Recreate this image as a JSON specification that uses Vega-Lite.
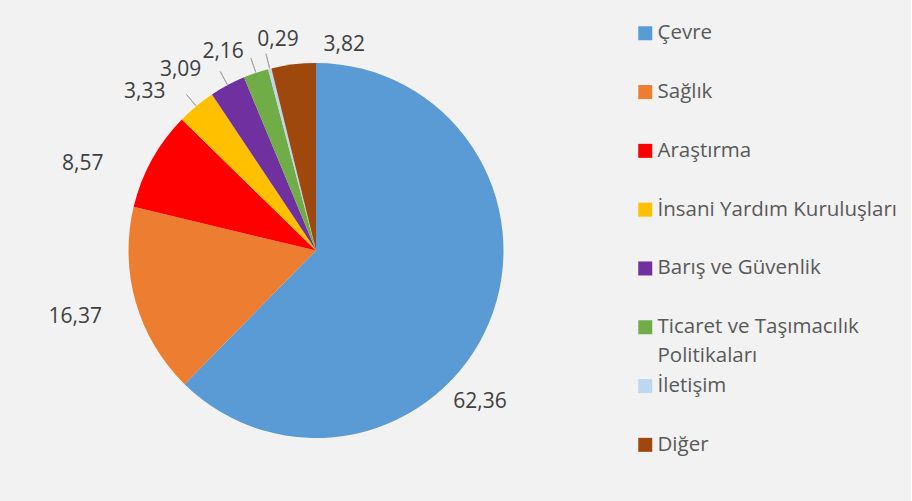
{
  "$schema": "https://vega.github.io/schema/vega-lite/v6.json",
  "width": 632,
  "height": 501,
  "padding": {"left": 0, "top": 0, "right": 14, "bottom": 0},
  "background": "#f2f2f2",
  "config": {
    "view": {"stroke": null},
    "font": "Open Sans",
    "style": {"guide-label": {"lineHeight": 29}},
    "locale": {"number": {"decimal": ",", "thousands": ".", "grouping": [3], "currency": ["", " TL"]}}
  },
  "data": {"values": [
    {"sira": 1, "alan": "Çevre", "pay": 62.36},
    {"sira": 2, "alan": "Sağlık", "pay": 16.37},
    {"sira": 3, "alan": "Araştırma", "pay": 8.57},
    {"sira": 4, "alan": "İnsani Yardım Kuruluşları", "pay": 3.33},
    {"sira": 5, "alan": "Barış ve Güvenlik", "pay": 3.09},
    {"sira": 6, "alan": "Ticaret ve Taşımacılık Politikaları", "pay": 2.16},
    {"sira": 7, "alan": "İletişim", "pay": 0.29},
    {"sira": 8, "alan": "Diğer", "pay": 3.82}
  ]},
  "encoding": {
    "theta": {"field": "pay", "type": "quantitative", "stack": true},
    "order": {"field": "sira", "type": "quantitative"}
  },
  "layer": [
    {
      "mark": {"type": "arc", "outerRadius": 187.5},
      "encoding": {
        "color": {
          "field": "alan", "type": "nominal",
          "scale": {
            "domain": ["Çevre", "Sağlık", "Araştırma", "İnsani Yardım Kuruluşları", "Barış ve Güvenlik", "Ticaret ve Taşımacılık Politikaları", "İletişim", "Diğer"],
            "range": ["#5B9BD5", "#ED7D31", "#FF0000", "#FFC000", "#7030A0", "#70AD47", "#BDD7EE", "#9E480E"]
          },
          "legend": {
            "orient": "none", "legendX": 635, "legendY": 23, "title": null,
            "symbolType": "square", "symbolSize": 196, "symbolStrokeWidth": 0,
            "labelFontSize": 20.5, "labelColor": "#595959", "labelFont": "Open Sans",
            "rowPadding": 8.8, "labelOffset": 2, "labelLimit": 400,
            "labelExpr": "datum.label === 'Ticaret ve Taşımacılık Politikaları' ? ['Ticaret ve Taşımacılık', 'Politikaları'] : [datum.label, '']"
          }
        }
      }
    },
    {
      "mark": {"type": "arc", "innerRadius": 188, "outerRadius": 203, "padAngle": 1.2, "fillOpacity": 0, "stroke": "#a6a6a6", "strokeWidth": 1},
      "encoding": {
        "detail": {"field": "alan"},
        "strokeOpacity": {"condition": {"test": "datum.alan === 'İnsani Yardım Kuruluşları' || datum.alan === 'Barış ve Güvenlik' || datum.alan === 'Ticaret ve Taşımacılık Politikaları' || datum.alan === 'İletişim'", "value": 1}, "value": 0}
      }
    },
    {
      "mark": {"type": "text", "radius": 215, "dx": -35, "dy": 70, "fontSize": 21, "color": "#404040"},
      "encoding": {"detail": {"field": "alan"}, "text": {"condition": {"test": "datum.alan === 'Çevre'", "field": "pay", "type": "quantitative", "format": ".2f"}, "value": ""}}
    },
    {
      "mark": {"type": "text", "radius": 215, "dx": -34, "dy": 7, "fontSize": 21, "color": "#404040"},
      "encoding": {"detail": {"field": "alan"}, "text": {"condition": {"test": "datum.alan === 'Sağlık' || datum.alan === 'İnsani Yardım Kuruluşları'", "field": "pay", "type": "quantitative", "format": ".2f"}, "value": ""}}
    },
    {
      "mark": {"type": "text", "radius": 215, "dx": -34, "dy": 9, "fontSize": 21, "color": "#404040"},
      "encoding": {"detail": {"field": "alan"}, "text": {"condition": {"test": "datum.alan === 'Barış ve Güvenlik'", "field": "pay", "type": "quantitative", "format": ".2f"}, "value": ""}}
    },
    {
      "mark": {"type": "text", "radius": 215, "dx": -45, "dy": 17, "fontSize": 21, "color": "#404040"},
      "encoding": {"detail": {"field": "alan"}, "text": {"condition": {"test": "datum.alan === 'Araştırma'", "field": "pay", "type": "quantitative", "format": ".2f"}, "value": ""}}
    },
    {
      "mark": {"type": "text", "radius": 215, "dx": -24, "dy": 5, "fontSize": 21, "color": "#404040"},
      "encoding": {"detail": {"field": "alan"}, "text": {"condition": {"test": "datum.alan === 'Ticaret ve Taşımacılık Politikaları'", "field": "pay", "type": "quantitative", "format": ".2f"}, "value": ""}}
    },
    {
      "mark": {"type": "text", "radius": 215, "dx": 15, "dy": -2, "fontSize": 21, "color": "#404040"},
      "encoding": {"detail": {"field": "alan"}, "text": {"condition": {"test": "datum.alan === 'İletişim'", "field": "pay", "type": "quantitative", "format": ".2f"}, "value": ""}}
    },
    {
      "mark": {"type": "text", "radius": 215, "dx": 54, "dy": 8, "fontSize": 21, "color": "#404040"},
      "encoding": {"detail": {"field": "alan"}, "text": {"condition": {"test": "datum.alan === 'Diğer'", "field": "pay", "type": "quantitative", "format": ".2f"}, "value": ""}}
    }
  ]
}
